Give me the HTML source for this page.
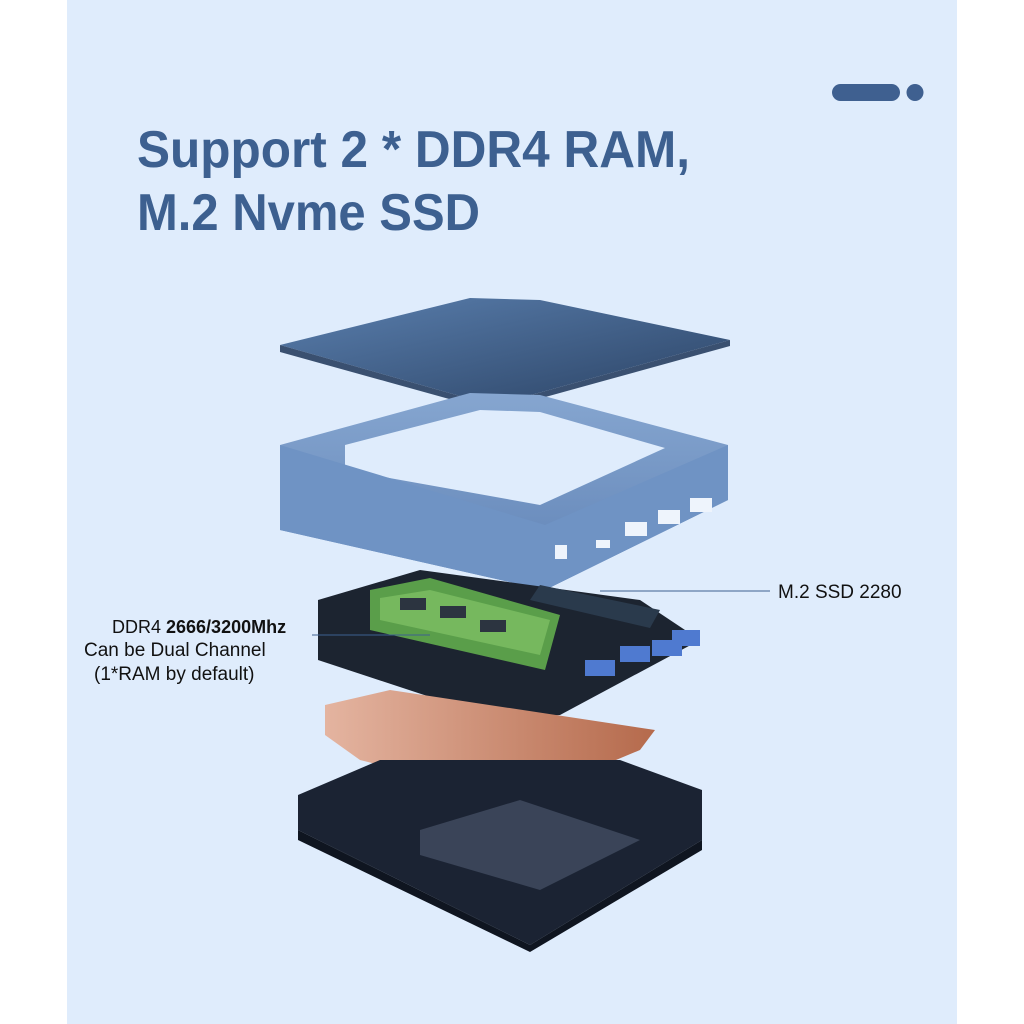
<!DOCTYPE html>
<html><head><style>
body{margin:0;width:1024px;height:1024px;background:#fff;overflow:hidden}
svg{display:block}
</style></head><body>
<svg width="1024" height="1024" viewBox="0 0 1024 1024" xmlns="http://www.w3.org/2000/svg" font-family="Liberation Sans, sans-serif">
<defs>
<linearGradient id="lid" x1="0" y1="0" x2="1" y2="1"><stop offset="0" stop-color="#5a7fae"/><stop offset="1" stop-color="#2c4466"/></linearGradient>
<linearGradient id="frame" x1="0" y1="0" x2="0" y2="1"><stop offset="0" stop-color="#86a6d0"/><stop offset="1" stop-color="#5f82b5"/></linearGradient>
<linearGradient id="cu" x1="0" y1="0" x2="1" y2="0"><stop offset="0" stop-color="#e4b4a0"/><stop offset="1" stop-color="#b56a4c"/></linearGradient>
</defs>
<rect x="67" y="0" width="890" height="1024" fill="#dfecfc"/>
<rect x="832" y="84" width="68" height="17" rx="8.5" fill="#3f6090"/>
<circle cx="915" cy="92.5" r="8.5" fill="#3f6090"/>
<text x="137" y="167" font-size="52" font-weight="bold" fill="#3d6090" textLength="553" lengthAdjust="spacingAndGlyphs">Support 2 * DDR4 RAM,</text>
<text x="137" y="230" font-size="52" font-weight="bold" fill="#3d6090" textLength="343" lengthAdjust="spacingAndGlyphs">M.2 Nvme SSD</text>
<!-- lid -->
<polygon points="280,345 470,298 540,300 730,340 520,398 460,396" fill="url(#lid)"/>
<polygon points="280,345 460,396 520,398 730,340 730,346 520,404 460,402 280,352" fill="#3a5070"/>
<!-- frame -->
<polygon points="280,445 470,393 540,395 728,445 728,500 545,590 280,530" fill="url(#frame)"/>
<polygon points="345,445 480,410 540,412 665,448 540,505 345,470" fill="#dfecfc"/>
<polygon points="280,445 545,525 728,445 728,500 545,590 280,530" fill="#6f93c4"/>
<g fill="#eef4fc"><rect x="555" y="545" width="12" height="14"/><rect x="596" y="540" width="14" height="8"/><rect x="625" y="522" width="22" height="14"/><rect x="658" y="510" width="22" height="14"/><rect x="690" y="498" width="22" height="14"/></g>
<!-- board -->
<polygon points="318,600 420,570 640,600 700,640 560,715 500,720 318,660" fill="#1c2430"/>
<polygon points="370,590 430,578 560,615 545,670 370,630" fill="#5a9e4a"/>
<polygon points="380,598 430,590 550,620 540,655 380,620" fill="#76b85e"/>
<g fill="#2c3440"><rect x="400" y="598" width="26" height="12"/><rect x="440" y="606" width="26" height="12"/><rect x="480" y="620" width="26" height="12"/></g>
<g fill="#4f7ad0"><rect x="585" y="660" width="30" height="16"/><rect x="620" y="646" width="30" height="16"/><rect x="652" y="640" width="30" height="16"/><rect x="672" y="630" width="28" height="16"/></g>
<polygon points="540,585 660,610 650,628 530,600" fill="#2a3a4c"/>
<!-- copper -->
<polygon points="325,705 390,690 655,730 640,750 520,800 360,760 325,735" fill="url(#cu)"/>
<!-- base -->
<polygon points="298,795 380,760 620,760 702,790 702,840 530,945 298,830" fill="#1b2333"/>
<polygon points="298,830 530,945 702,840 702,850 530,952 298,840" fill="#0f1520"/>
<polygon points="420,830 520,800 640,840 540,890 420,855" fill="#3a4458"/>
<!-- labels -->
<line x1="600" y1="591" x2="770" y2="591" stroke="#3d6090" stroke-width="1"/>
<text x="778" y="598" font-size="19" fill="#111">M.2 SSD 2280</text>
<line x1="312" y1="635" x2="430" y2="635" stroke="#3d6090" stroke-width="1"/>
<text x="112" y="633" font-size="18" fill="#111">DDR4 <tspan font-weight="bold">2666/3200Mhz</tspan></text>
<text x="84" y="656" font-size="19" fill="#111">Can be Dual Channel</text>
<text x="94" y="680" font-size="19" fill="#111">(1*RAM by default)</text>
</svg>
</body></html>
